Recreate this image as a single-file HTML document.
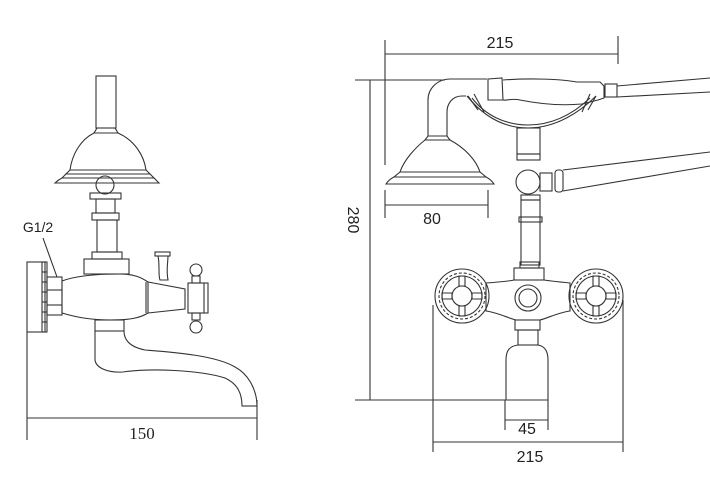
<!DOCTYPE html>
<html><head><meta charset="utf-8"><style>
html,body{margin:0;padding:0;background:#fff;width:710px;height:500px;overflow:hidden}
svg{display:block}
</style></head><body>
<svg width="710" height="500" viewBox="0 0 710 500" xmlns="http://www.w3.org/2000/svg" fill="none" stroke="#333" stroke-width="1.1">
<!-- LEFT VIEW -->
<rect x="96" y="76" width="20" height="52"/>
<path d="M97,128 L115,128 L118,133 L94,133 Z"/>
<path d="M94,133 C80,140 72,155 70,170 L146,170 C144,155 134,140 118,133"/>
<path d="M70,170 L66,174 L150,174 L146,170"/>
<path d="M66,174 L62,178 L154,178 L150,174"/>
<path d="M62,178 C58,180 56,182 55,183 L159,183 C158,182 156,180 154,178"/>
<circle cx="105" cy="185" r="9"/>
<rect x="90" y="193" width="31" height="6"/>
<rect x="96" y="199" width="19" height="14"/>
<rect x="92" y="213" width="27" height="7"/>
<rect x="97" y="220" width="20" height="32"/>
<rect x="92" y="252" width="30" height="7"/>
<rect x="84" y="259" width="45" height="15"/>
<rect x="27" y="262" width="18" height="70"/>
<rect x="42" y="262" width="5" height="70"/>
<line x1="42" y1="272" x2="47" y2="272"/><line x1="42" y1="282" x2="47" y2="282"/><line x1="42" y1="292" x2="47" y2="292"/><line x1="42" y1="302" x2="47" y2="302"/><line x1="42" y1="312" x2="47" y2="312"/><line x1="42" y1="322" x2="47" y2="322"/>
<rect x="47" y="277" width="15" height="38"/>
<line x1="47" y1="290" x2="62" y2="290"/><line x1="47" y1="305" x2="62" y2="305"/>
<path d="M62,281 C75,276 95,274 120,274 C135,274 142,278 148,282 L148,313 C140,318 130,320 110,320 C90,320 75,317 62,313 Z"/>
<line x1="146" y1="282" x2="146" y2="313"/>
<path d="M148,282 L185,289 L185,309 L148,313"/>
<rect x="188" y="283" width="20" height="30"/>
<line x1="204" y1="283" x2="204" y2="313"/>
<rect x="192" y="276" width="8" height="7"/><circle cx="196" cy="270" r="6"/>
<rect x="192" y="313" width="8" height="7"/><circle cx="196" cy="327" r="6"/>
<rect x="155" y="252" width="15" height="4"/>
<path d="M158,256 C160,265 158,275 160,280 L168,280 C166,270 168,262 168,256"/>
<rect x="95" y="320" width="29" height="11"/>
<path d="M95,331 L95,360 C96,368 108,373 123,372 C150,368 200,370 225,378 C238,384 242,394 242,406 L257,406 C257,392 250,375 235,367 C215,355 170,352 145,350 C130,347 124,340 124,331"/>
<line x1="242" y1="406" x2="257" y2="406"/>
<line x1="27" y1="332" x2="27" y2="440"/>
<line x1="257" y1="400" x2="257" y2="440"/>
<line x1="27" y1="418" x2="257" y2="418"/>
<text x="142" y="439" font-family="Liberation Serif, serif" font-size="17" fill="#222" stroke="none" text-anchor="middle">150</text>
<text x="38" y="232" font-family="Liberation Sans, sans-serif" font-size="14" fill="#222" stroke="none" text-anchor="middle">G1/2</text>
<line x1="43" y1="238" x2="57" y2="277"/>

<!-- RIGHT VIEW -->
<line x1="385" y1="40" x2="385" y2="165"/>
<line x1="618" y1="36" x2="618" y2="64"/>
<line x1="385" y1="54" x2="618" y2="54"/>
<text x="500" y="48" font-family="Liberation Sans, sans-serif" font-size="16" fill="#222" stroke="none" text-anchor="middle">215</text>
<line x1="355" y1="80" x2="445" y2="80"/>
<line x1="370" y1="80" x2="370" y2="400"/>
<line x1="355" y1="400" x2="508" y2="400"/>
<text transform="translate(348,220) rotate(90)" font-family="Liberation Sans, sans-serif" font-size="16" fill="#222" stroke="none" text-anchor="middle">280</text>
<path d="M487,79 L450,79 C438,79 428,88 428,100 L428,136"/>
<path d="M466,96 L462,96 C452,96 447,104 447,112 L447,136"/>
<path d="M428,136 L447,136 L450,140 L425,140 Z"/>
<path d="M425,140 C415,148 404,160 400,172 L480,172 C476,160 465,148 450,140"/>
<path d="M400,172 L394,177 L486,177 L480,172"/>
<path d="M394,177 C390,179 388,181 386,184 L494,184 C492,181 490,179 486,177"/>
<line x1="385" y1="190" x2="385" y2="218"/>
<line x1="488" y1="190" x2="488" y2="218"/>
<line x1="385" y1="205" x2="488" y2="205"/>
<text x="432" y="224" font-family="Liberation Sans, sans-serif" font-size="16" fill="#222" stroke="none" text-anchor="middle">80</text>
<path d="M488,79 L502,78 L503,100 L488,100 Z"/>
<path d="M503,80 C530,78 560,79 577,82 L600,82 L604,86 L604,98 L598,100 L582,104 C560,106 540,104 520,100 C512,98 506,101 503,100"/>
<rect x="605" y="84" width="12" height="13"/>
<path d="M617,86 L710,78 M617,97 L710,92"/>
<path d="M467,96 C480,112 500,128 528,128 C556,128 580,112 596,96"/>
<path d="M472,98 C485,115 505,125 528,125 C551,125 572,115 590,98"/>
<path d="M468,96 L478,110 M474,94 L484,112 M596,96 L588,110 M590,94 L582,112"/>
<rect x="517" y="128" width="23" height="26"/>
<rect x="517" y="154" width="23" height="6"/>
<circle cx="528" cy="182" r="12"/>
<rect x="540" y="173" width="12" height="18"/>
<rect x="555" y="170" width="8" height="22" rx="3"/>
<path d="M563,170 L710,152 M563,191 L710,166"/>
<rect x="521" y="195" width="19" height="5"/>
<rect x="521" y="200" width="19" height="65"/>
<rect x="519" y="217" width="23" height="5"/>
<rect x="520" y="262" width="19" height="6"/>
<rect x="514" y="268" width="30" height="12"/>
<path d="M486,283 C500,282 510,281 514,280 L544,280 C550,281 560,282 570,283 L570,311 C560,312 548,318 540,320 L516,320 C508,318 496,312 486,311 Z"/>
<circle cx="528" cy="298" r="13"/><circle cx="528" cy="298" r="9"/>
<g id="h">
<circle cx="462" cy="296" r="27"/>
<circle cx="462" cy="296" r="23" stroke-dasharray="3 2"/>
<circle cx="462" cy="296" r="20"/>
<circle cx="462" cy="296" r="10"/>
<path d="M459,276 L465,276 L465,286 L459,286 Z M459,306 L465,306 L465,316 L459,316 Z M442,293 L452,293 L452,299 L442,299 Z M472,293 L482,293 L482,299 L472,299 Z"/>
</g>
<use href="#h" transform="translate(134,0)"/>
<rect x="515" y="320" width="25" height="10"/>
<rect x="518" y="330" width="20" height="15"/>
<path d="M518,345 C510,346 506,350 506,360 L506,400 L548,400 L548,360 C548,350 544,346 538,345"/>
<line x1="505" y1="400" x2="505" y2="430"/>
<line x1="548" y1="400" x2="548" y2="430"/>
<line x1="505" y1="420" x2="548" y2="420"/>
<text x="527" y="434" font-family="Liberation Sans, sans-serif" font-size="16" fill="#222" stroke="none" text-anchor="middle">45</text>
<line x1="433" y1="305" x2="433" y2="452"/>
<line x1="623" y1="300" x2="623" y2="452"/>
<line x1="433" y1="442" x2="623" y2="442"/>
<text x="530" y="462" font-family="Liberation Sans, sans-serif" font-size="16" fill="#222" stroke="none" text-anchor="middle">215</text>
</svg>
</body></html>
